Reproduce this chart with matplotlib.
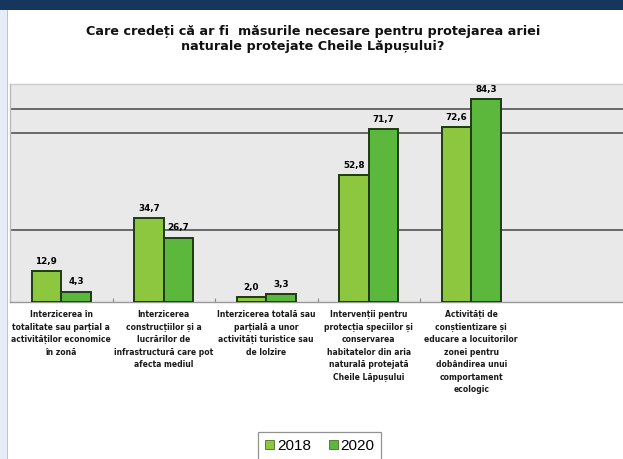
import matplotlib.pyplot as plt
from matplotlib.patches import Rectangle

categories = [
    "Interzicerea în\ntotalitate sau parțial a\nactivităților economice\nîn zonă",
    "Interzicerea\nconstrucțiilor și a\nlucrărilor de\ninfrastructură care pot\nafecta mediul",
    "Interzicerea totală sau\nparțială a unor\nactivități turistice sau\nde lolzire",
    "Intervenții pentru\nprotecția speciilor și\nconservarea\nhabitatelor din aria\nnaturală protejată\nCheile Lăpușului",
    "Activități de\nconștientizare și\neducare a locuitorilor\nzonei pentru\ndobândirea unui\ncomportament\necologic",
]
values_2018 = [12.9, 34.7, 2.0, 52.8, 72.6]
values_2020 = [4.3, 26.7, 3.3, 71.7, 84.3]
labels_2018 = ["12,9", "34,7", "2,0", "52,8", "72,6"]
labels_2020 = ["4,3", "26,7", "3,3", "71,7", "84,3"]
series_names = ["2018", "2020"]

W, H = 623, 459
fig = plt.figure(figsize=(W / 100, H / 100), dpi=100)
fig.patch.set_facecolor("white")

# frame decoration: navy header band and pale side strip
fig.add_artist(Rectangle((0, 1 - 10 / H), 1, 10 / H, transform=fig.transFigure,
                         facecolor="#17365d", edgecolor="none", zorder=0))
fig.add_artist(Rectangle((0, 0), 7 / W, 1 - 10 / H, transform=fig.transFigure,
                         facecolor="#e6edf7", edgecolor="none", zorder=0))
fig.add_artist(Rectangle((7 / W, 0), 1.2 / W, 1 - 10 / H, transform=fig.transFigure,
                         facecolor="#b8c4d4", edgecolor="none", zorder=0))

fig.text(313 / W, 1 - 39 / H,
         "Care credeți că ar fi  măsurile necesare pentru protejarea ariei\nnaturale protejate Cheile Lăpușului?",
         ha="center", va="center", fontsize=9.2, fontweight="bold", linespacing=1.25,
         family="DejaVu Sans", color="#111111")

left, right, top, bottom = 10, 625, 84, 302
ax = fig.add_axes([left / W, 1 - bottom / H, (right - left) / W, (bottom - top) / H])
ax.set_facecolor("#e9e9e9")
ax.set_xlim(-0.5, 5.5)
ax.set_ylim(0, 90.5)

for gy in [30, 70, 80]:
    ax.axhline(gy, color="#5e5e5e", lw=1.3, zorder=1)

x = list(range(len(categories)))
bw = 0.29
b1 = ax.bar([i - bw / 2 for i in x], values_2018, width=bw, color="#8dc63f",
            edgecolor="#1f3a12", linewidth=1.4, zorder=3, label=series_names[0])
b2 = ax.bar([i + bw / 2 for i in x], values_2020, width=bw, color="#5cb83c",
            edgecolor="#1f3a12", linewidth=1.4, zorder=3, label=series_names[1])

for rect, lab in zip(b1, labels_2018):
    ax.text(rect.get_x() + rect.get_width() / 2, rect.get_height() + 2.2, lab,
            ha="center", va="bottom", fontsize=6.3, fontweight="bold",
            family="DejaVu Sans", zorder=4)
for rect, lab in zip(b2, labels_2020):
    ax.text(rect.get_x() + rect.get_width() / 2, rect.get_height() + 2.2, lab,
            ha="center", va="bottom", fontsize=6.3, fontweight="bold",
            family="DejaVu Sans", zorder=4)

ax.set_yticks([])
ax.set_xticks([i + 0.5 for i in x[:-1]])
ax.set_xticklabels([])
ax.tick_params(axis="x", length=3, direction="in", color="#888888")
for s in ["top", "right", "left"]:
    ax.spines[s].set_visible(False)
ax.spines["bottom"].set_color("#999999")
ax.spines["bottom"].set_linewidth(1.0)
ax.plot([-0.5, -0.5], [0, 90.5], color="#bbbbbb", lw=1.0, clip_on=False, zorder=2)
ax.plot([-0.5, 5.5], [90.5, 90.5], color="#cccccc", lw=1.0, clip_on=False, zorder=2)

for i, cat in enumerate(categories):
    ax.text(i, -3.4, cat, ha="center", va="top", fontsize=5.5, fontweight="bold",
            family="DejaVu Sans", linespacing=1.5, color="#1a1a1a")

leg = fig.legend(handles=[b1, b2], labels=series_names, loc="upper center",
                 bbox_to_anchor=(320 / W, 1 - 432 / H), ncol=2, frameon=True,
                 handlelength=0.55, handleheight=0.55, handletextpad=0.2,
                 columnspacing=1.2, borderpad=0.45, borderaxespad=0.0, fancybox=False,
                 prop={"family": "Liberation Sans", "size": 11})
leg.get_frame().set_edgecolor("#777777")
leg.get_frame().set_linewidth(0.9)
for h in leg.legend_handles:
    h.set_linewidth(0.6)
    h.set_edgecolor("#4a6a2a")

fig.savefig("out.png", dpi=100)
